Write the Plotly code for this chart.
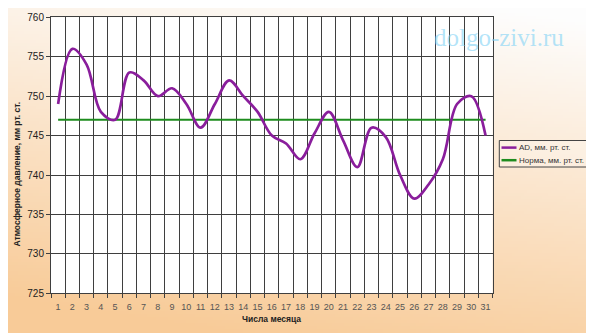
import zlib, struct, base64
import plotly.graph_objects as go

# ---------------- data ----------------
days = list(range(1, 32))
pressure = [749, 756, 754, 748, 747, 753, 752, 750, 751, 749,
            746, 749, 752, 750, 748, 745, 744, 742, 745.3, 748,
            744.4, 741, 746, 744.8, 740, 737, 738.8, 742, 749, 750, 745]
norm = [747] * 31
y_ticks = [725, 730, 735, 740, 745, 750, 755, 760]
series_names = ["AD, мм. рт. ст.", "Норма, мм. рт. ст."]
x_title = "Числа месяца"
y_title = "Атмосферное давление, мм рт. ст."
watermark = "dolgo-zivi.ru"

# The page body has an 8px margin, so the figure is drawn 8px in from
# the top-left corner of the window; all coordinates below are window px.
OFF = 8
W, H = 594 - OFF, 333 - OFF
PL, PR, PT, PB = 51, 492.7, 17.3, 293.3  # plot-area pixel box (window)

def px(x):
    return (x - OFF) / W

def py(y):
    return 1 - (y - OFF) / H

# ---------------- background gradient (generated png) ----------------
def png_uri(w, h, fn):
    rows = []
    for y in range(h):
        row = bytearray(b"\x00")
        for x in range(w):
            row.extend(fn(x, y))
        rows.append(bytes(row))
    raw = b"".join(rows)

    def chunk(t, d):
        c = struct.pack(">I", len(d)) + t + d
        return c + struct.pack(">I", zlib.crc32(t + d) & 0xffffffff)

    png = (b"\x89PNG\r\n\x1a\n"
           + chunk(b"IHDR", struct.pack(">IIBBBBB", w, h, 8, 2, 0, 0, 0))
           + chunk(b"IDAT", zlib.compress(raw, 9))
           + chunk(b"IEND", b""))
    return "data:image/png;base64," + base64.b64encode(png).decode()

GW, GH = 196, 108
top_c = (253, 253, 253)
bot_c = (248, 203, 152)

def grad(x, y):
    u = x / (GW - 1)
    v = y / (GH - 1)
    t = v * 0.88 + (1 - u) * 0.25 - 0.04
    t = max(0.0, min(1.0, t))
    return bytes(int(round(top_c[i] + (bot_c[i] - top_c[i]) * t)) for i in range(3))

bg_uri = png_uri(GW, GH, grad)

# ---------------- figure ----------------
fig = go.Figure()
fig.add_trace(go.Scatter(
    x=days, y=norm, mode="lines", name=series_names[1],
    line=dict(color="#1E8C1E", width=2), showlegend=False))
fig.add_trace(go.Scatter(
    x=days, y=pressure, mode="lines", name=series_names[0],
    line=dict(color="#8A1E9C", width=2.7, shape="spline", smoothing=1.0),
    showlegend=False))

font_fam = "Liberation Sans, Arial, sans-serif"
grid_c = "#3f3f3f"

fig.update_layout(
    width=W, height=H,
    margin=dict(l=0, r=0, t=0, b=0, autoexpand=False),
    paper_bgcolor="white",
    plot_bgcolor="white",
    font=dict(family=font_fam, size=10, color="#333"),
    xaxis=dict(
        domain=[px(PL), px(PR)],
        automargin=False,
        range=[0.5, 31.5],
        tickmode="array", tickvals=days, ticktext=[str(d) for d in days],
        ticks="", showgrid=False, zeroline=False,
        tickfont=dict(size=9, color="#555"),
        ticklabelstandoff=5,
        showline=True, linecolor=grid_c, linewidth=1, mirror=True,
        minor=dict(tick0=0.5, dtick=1, showgrid=True, gridcolor=grid_c,
                   gridwidth=1.2, ticks="outside", ticklen=4,
                   tickcolor=grid_c),
    ),
    yaxis=dict(
        domain=[py(PB), py(PT)],
        automargin=False,
        range=[725, 760],
        tickmode="array", tickvals=y_ticks,
        showgrid=True, gridcolor=grid_c, gridwidth=1.2, zeroline=False,
        ticks="outside", ticklen=4, tickcolor=grid_c,
        tickfont=dict(size=10, color="#222"),
        showline=True, linecolor=grid_c, linewidth=1, mirror=True,
    ),
    images=[dict(source=bg_uri, xref="paper", yref="paper",
                 x=0, y=1, sizex=1, sizey=1, xanchor="left", yanchor="top",
                 sizing="stretch", layer="below")],
)

shapes = [
    # white plot area over the gradient
    dict(type="rect", xref="paper", yref="paper", layer="below",
         x0=px(PL), x1=px(PR), y0=py(PB), y1=py(PT),
         fillcolor="white", line=dict(width=0)),
    # legend box
    dict(type="rect", xref="paper", yref="paper",
         x0=px(499.3), x1=px(587.6), y0=py(167), y1=py(140.5),
         fillcolor="rgba(255,255,255,0.25)", line=dict(color="#444", width=1)),
    dict(type="line", xref="paper", yref="paper",
         x0=px(501.5), x1=px(516.5), y0=py(147.6), y1=py(147.6),
         line=dict(color="#8A1E9C", width=2.5)),
    dict(type="line", xref="paper", yref="paper",
         x0=px(501.5), x1=px(516.5), y0=py(160.2), y1=py(160.2),
         line=dict(color="#1E8C1E", width=2.5)),
]
fig.update_layout(shapes=shapes)

annots = [
    dict(text=series_names[0], x=px(517), y=py(147.6), xanchor="left",
         yanchor="middle", font=dict(size=8, color="#333")),
    dict(text=series_names[1], x=px(517), y=py(160.2), xanchor="left",
         yanchor="middle", font=dict(size=8, color="#333")),
    dict(text="<b>" + x_title + "</b>", x=px(271.5), y=py(319),
         xanchor="center", yanchor="middle", font=dict(size=8.5, color="#222")),
    dict(text="<b>" + y_title + "</b>", x=px(16.5), y=py(174),
         xanchor="center", yanchor="middle", textangle=-90,
         font=dict(size=8.5, color="#222")),
    dict(text=watermark, x=px(499), y=py(37.5), xanchor="center",
         yanchor="middle",
         font=dict(family="Liberation Serif, Times New Roman, serif",
                   size=25, color="rgba(130,210,245,0.6)")),
]
for a in annots:
    a.update(xref="paper", yref="paper", showarrow=False)
fig.update_layout(annotations=annots)

fig.write_html("out.html")
